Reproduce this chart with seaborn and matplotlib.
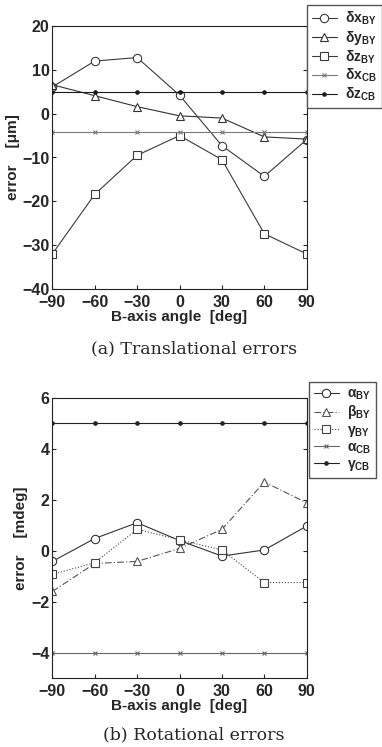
import numpy as np
import pandas as pd
import matplotlib
matplotlib.use("Agg")
import matplotlib.pyplot as plt
import seaborn as sns

angles = [-90, -60, -30, 0, 30, 60, 90]

# (a) translational errors [um]
dx_BY = [6.1, 12.0, 12.8, 4.2, -7.3, -14.3, -5.9]
dy_BY = [6.6, 4.1, 1.6, -0.5, -1.0, -5.3, -5.8]
dz_BY = [-32.0, -18.4, -9.5, -5.0, -10.5, -27.4, -32.0]
dx_CB = [-4.1, -4.1, -4.1, -4.1, -4.1, -4.1, -4.1]
dz_CB = [5.0, 5.0, 5.0, 5.0, 5.0, 5.0, 5.0]

# (b) rotational errors [mdeg]
a_BY = [-0.42, 0.48, 1.1, 0.4, -0.21, 0.03, 0.97]
b_BY = [-1.6, -0.5, -0.42, 0.09, 0.84, 2.7, 1.88]
g_BY = [-0.93, -0.47, 0.84, 0.43, 0.03, -1.25, -1.25]
a_CB = [-4.0, -4.0, -4.0, -4.0, -4.0, -4.0, -4.0]
g_CB = [5.0, 5.0, 5.0, 5.0, 5.0, 5.0, 5.0]

sns.set_style("ticks")
plt.rcParams['font.family'] = ['Liberation Sans', 'DejaVu Sans']
plt.rcParams['font.weight'] = 'bold'
plt.rcParams['mathtext.fontset'] = 'custom'
plt.rcParams['mathtext.rm'] = 'Liberation Sans:bold'
plt.rcParams['mathtext.it'] = 'Liberation Sans:bold'
plt.rcParams['mathtext.bf'] = 'Liberation Sans:bold'

fig = plt.figure(figsize=(3.82, 7.47), dpi=100)
ax1 = fig.add_axes([0.137, 1 - 289 / 747, 0.666, 263 / 747])
ax2 = fig.add_axes([0.137, 1 - 678 / 747, 0.666, 280 / 747])


def draw(ax, values, label, marker, ls, color, ms, mfc='white'):
    df = pd.DataFrame({'angle': angles, 'val': values})
    sns.lineplot(data=df, x='angle', y='val', ax=ax, label=label, marker=marker,
                 linestyle=ls, color=color, linewidth=0.8, markersize=ms,
                 markerfacecolor=mfc, markeredgecolor=color, markeredgewidth=0.8)


draw(ax1, dx_BY, r'δx$_{BY}$', 'o', '-', '#3a3a3a', 6)
draw(ax1, dy_BY, r'δy$_{BY}$', '^', '-', '#333333', 6)
draw(ax1, dz_BY, r'δz$_{BY}$', 's', '-', '#3a3a3a', 5.5)
draw(ax1, dx_CB, r'δx$_{CB}$', 'x', '-', '#7a7a7a', 3.5, mfc='#7a7a7a')
draw(ax1, dz_CB, r'δz$_{CB}$', 'o', '-', '#1a1a1a', 2.5, mfc='#1a1a1a')

draw(ax2, a_BY, r'α$_{BY}$', 'o', '-', '#333333', 6)
draw(ax2, b_BY, r'β$_{BY}$', '^', (0, (6, 2, 1, 2)), '#555555', 6)
draw(ax2, g_BY, r'γ$_{BY}$', 's', ':', '#444444', 5.5)
draw(ax2, a_CB, r'α$_{CB}$', 'x', '-', '#666666', 3.5, mfc='#666666')
draw(ax2, g_CB, r'γ$_{CB}$', 'o', '-', '#222222', 2.5, mfc='#222222')

for ax, ylim, yticks, ylabel in [
    (ax1, (-40, 20), [-40, -30, -20, -10, 0, 10, 20], 'error    [μm]'),
    (ax2, (-5, 6), [-4, -2, 0, 2, 4, 6], 'error    [mdeg]'),
]:
    ax.set_xlim(-90, 90)
    ax.set_ylim(*ylim)
    ax.set_xticks(angles)
    ax.set_yticks(yticks)
    ax.tick_params(direction='in', length=3, width=0.8, labelsize=11.5,
                   right=True, top=False)
    ax.tick_params(axis='y', pad=2)
    ax.tick_params(axis='x', pad=4)
    for lab in ax.get_xticklabels() + ax.get_yticklabels():
        lab.set_fontweight('bold')
    for sp in ax.spines.values():
        sp.set_visible(True)
        sp.set_linewidth(0.8)
        sp.set_color('#222222')
    ax.set_xlabel('B-axis angle  [deg]', fontsize=11, fontweight='bold', labelpad=0)
    ax.set_ylabel(ylabel, fontsize=11, fontweight='bold', labelpad=2)
    ax.get_legend().remove()

leg_kw = dict(loc='upper left', borderaxespad=0, fancybox=False, edgecolor='#555555',
              framealpha=1, fontsize=10, handlelength=1.8, labelspacing=0.1,
              handletextpad=0.6, borderpad=0.35)
h1, l1 = ax1.get_legend_handles_labels()
fig.legend(h1, l1, bbox_to_anchor=(0.804, 0.993), **leg_kw)
h2, l2 = ax2.get_legend_handles_labels()
fig.legend(h2, l2, bbox_to_anchor=(0.809, 0.489), **leg_kw)

cap_kw = dict(ha='center', va='center', fontsize=12.5,
              family=['DejaVu Serif', 'Liberation Serif'], fontweight='normal')
fig.text(0.508, 1 - 349 / 747, '(a) Translational errors', **cap_kw)
fig.text(0.508, 1 - 735 / 747, '(b) Rotational errors', **cap_kw)

fig.savefig('out.png', dpi=100)
